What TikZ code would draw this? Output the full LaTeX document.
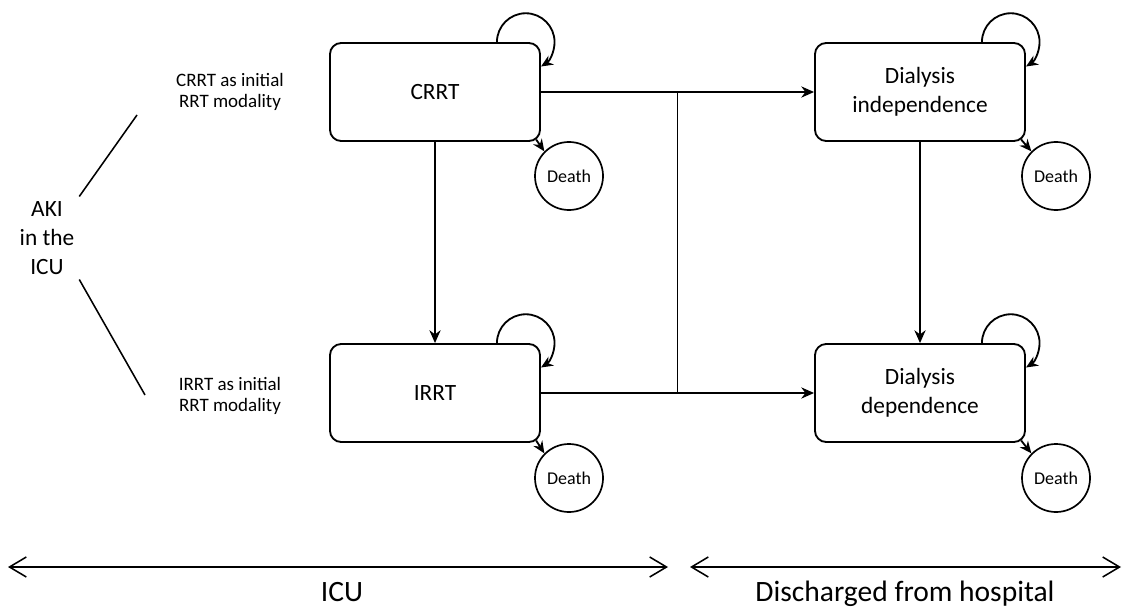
\documentclass[tikz,border=0pt]{standalone}
\usepackage{fontspec}
\setmainfont{Carlito}
\usetikzlibrary{arrows.meta,calc}

\begin{document}
\begin{tikzpicture}[x=0.025cm,y=0.025cm,
    state/.style={draw,line width=1.3pt,rounded corners=0.28cm,minimum width=5.25cm,minimum height=2.45cm,align=center,font=\fontsize{16.6}{21}\selectfont},
    death/.style={draw,circle,line width=1.2pt,minimum size=1.7cm,inner sep=0pt,font=\fontsize{12.8}{14}\selectfont},
    modality/.style={align=center,font=\fontsize{13.5}{15.5}\selectfont},
    flow/.style={line width=1.3pt,-{Stealth[length=0.32cm,width=0.28cm]}},
    selfloop/.style={line width=1.3pt,-{Stealth[length=0.3cm,width=0.26cm]}},
    period/.style={line width=1.1pt,{Straight Barb[length=0.42cm,width=0.5cm]}-{Straight Barb[length=0.42cm,width=0.5cm]}},
    axislabel/.style={anchor=base,font=\fontsize{21}{24}\selectfont}]
    \useasboundingbox (0,0) rectangle (1122,607);

    % States
    \node[state] (crrt) at (435,515) {CRRT};
    \node[state] (irrt) at (435,214) {IRRT};
    \node[state] (indep) at (920,515) {Dialysis\\independence};
    \node[state] (dep) at (920,214) {Dialysis\\dependence};

    % Death
    \node[death] (crrtdeath) at (569,431) {Death};
    \node[death] (irrtdeath) at (569,129) {Death};
    \node[death] (indepdeath) at (1056,431) {Death};
    \node[death] (depdeath) at (1056,129) {Death};

    % Start
    \node[align=center,font=\fontsize{16.6}{20.6}\selectfont] (aki) at (47,369) {AKI\\in the\\ICU};
    \node[modality] (crrtstart) at (230,515) {CRRT as initial\\RRT modality};
    \node[modality] (irrtstart) at (230,211) {IRRT as initial\\RRT modality};
    \coordinate (crrtend) at (137,492);
    \coordinate (irrtend) at (145,212);
    \draw[line width=1.1pt] (aki.north east) -- (crrtend);
    \draw[line width=1.1pt] (aki.south east) -- (irrtend);

    % Transitions
    \draw[flow] (crrt.east) -- (indep.west);
    \draw[flow] (irrt.east) -- (dep.west);
    \coordinate (jtop) at ($(crrt.east)!0.5!(indep.west)$);
    \coordinate (jbot) at ($(irrt.east)!0.5!(dep.west)$);
    \draw[line width=1.3pt] (jtop) -- (jbot);
    \draw[flow] (crrt.south) -- (irrt.north);
    \draw[flow] (indep.south) -- (dep.north);

    % Self loops and death
    \foreach \s in {crrt,irrt,indep,dep}{
        \draw[selfloop] ([xshift=-1.1cm]\s.north east) arc[start angle=180,end angle=-58,radius=0.72cm];
        \draw[selfloop] ([shift={(-0.12cm,0.06cm)}]\s.south east) -- (\s death.135);
    }

    % Time axis
    \coordinate (icul) at (8,40);
    \coordinate (icur) at (668,40);
    \coordinate (disl) at (690,40);
    \coordinate (disr) at (1121,40);
    \draw[period] (icul) -- (icur);
    \draw[period] (disl) -- (disr);
    \node[axislabel] (icu) at (342,6) {ICU};
    \node[axislabel] (dis) at (905,6) {Discharged from hospital};
\end{tikzpicture}
\end{document}
